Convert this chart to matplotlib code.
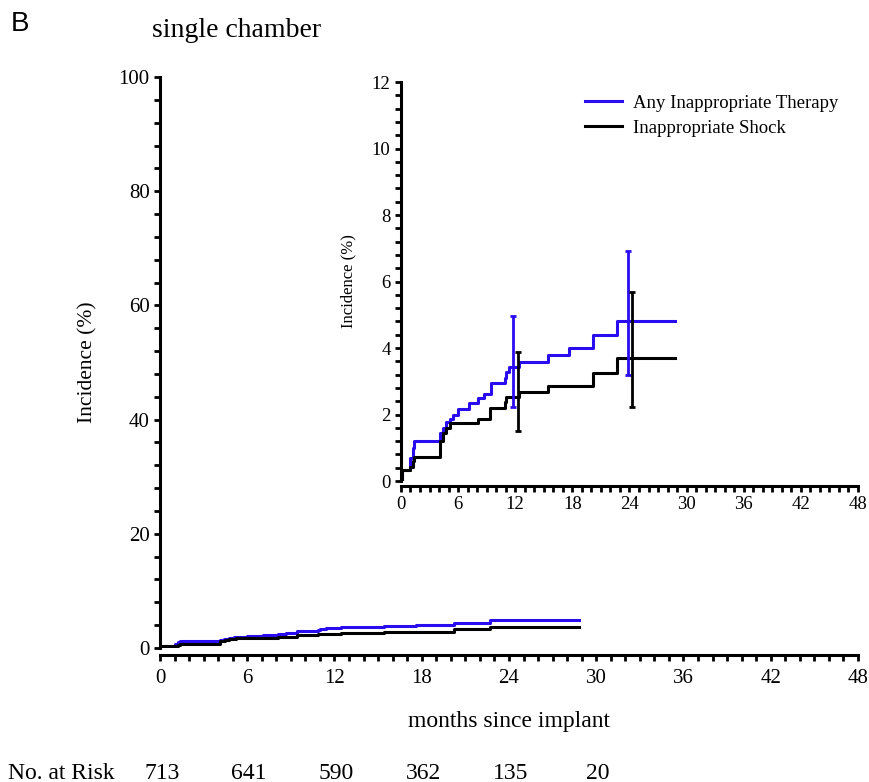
import numpy as np
import matplotlib.pyplot as plt
from matplotlib.ticker import MultipleLocator

plt.rcParams['font.family'] = 'Liberation Serif'

# step curves (months, incidence %)
any_t = [0, 0.15, 1.0, 1.25, 1.4, 4.1, 4.4, 4.75, 5.1, 5.5, 6.0, 7.1, 8.1, 8.7, 9.45,
         10.9, 11.0, 11.4, 12.45, 15.4, 17.6, 20.2, 22.7, 28.8]
any_v = [0, 0.33, 0.70, 1.0, 1.2, 1.45, 1.6, 1.76, 1.88, 2.0, 2.17, 2.35, 2.5, 2.63, 2.96,
         3.09, 3.29, 3.44, 3.59, 3.79, 3.99, 4.39, 4.82, 4.82]

shock_t = [0, 0.15, 1.0, 1.25, 1.4, 4.1, 4.45, 4.75, 5.2, 8.1, 9.4, 10.9, 11.0, 12.45,
           15.4, 20.2, 22.7, 28.8]
shock_v = [0, 0.33, 0.43, 0.6, 0.73, 1.2, 1.43, 1.58, 1.73, 1.88, 2.2, 2.38, 2.53, 2.68,
           2.86, 3.24, 3.71, 3.71]

# confidence intervals at 12 and 24 months (slightly offset)
any_ci_t = [11.8, 23.8]
any_ci_lo = [2.24, 3.19]
any_ci_hi = [4.96, 6.93]
shock_ci_t = [12.25, 24.3]
shock_ci_lo = [1.50, 2.24]
shock_ci_hi = [3.89, 5.68]

risk_months = [0, 6, 12, 18, 24, 30]
risk_n = [713, 641, 590, 362, 135, 20]

blue = '#2a0cf0'
black = '#000000'


def style_axis(ax, xmaj, ymaj, ymin, fs, off, pad):
    for s in ['top', 'right']:
        ax.spines[s].set_visible(False)
    for s in ['left', 'bottom']:
        ax.spines[s].set_linewidth(2.2)
    ax.spines['bottom'].set_position(('outward', off))
    ax.xaxis.set_major_locator(MultipleLocator(xmaj))
    ax.xaxis.set_minor_locator(MultipleLocator(1))
    ax.yaxis.set_major_locator(MultipleLocator(ymaj))
    ax.yaxis.set_minor_locator(MultipleLocator(ymin))
    ax.tick_params(which='both', direction='out', length=4.5, width=2, labelsize=fs)
    ax.tick_params(axis='x', pad=pad)
    ax.tick_params(axis='y', pad=3)
    ax.patch.set_alpha(0)


fig = plt.figure(figsize=(8.69, 7.82), dpi=100)

# main plot
ax = fig.add_axes([0.1841, 0.1714, 0.8032, 0.7301])
ax.step(any_t, any_v, where='post', color=blue, lw=2.2)
ax.step(shock_t, shock_v, where='post', color=black, lw=2.2)
ax.set_xlim(0, 48)
ax.set_ylim(0, 100)
style_axis(ax, 6, 20, 4, 15, 5, 6)
ax.set_ylabel('Incidence (%)', fontsize=15.5)
ax.yaxis.set_label_coords(-0.09, 0.5)
ax.set_xlabel('months since implant', fontsize=17, labelpad=16)

# inset
ins = fig.add_axes([0.4614, 0.3849, 0.5259, 0.5102])
ins.step(any_t, any_v, where='post', color=blue, lw=2.2, label='Any Inappropriate Therapy')
ins.step(shock_t, shock_v, where='post', color=black, lw=2.2, label='Inappropriate Shock')
ins.errorbar(any_ci_t, (np.array(any_ci_lo) + np.array(any_ci_hi)) / 2,
             yerr=(np.array(any_ci_hi) - np.array(any_ci_lo)) / 2,
             fmt='none', ecolor=blue, elinewidth=2, capsize=2.5, capthick=2)
ins.errorbar(shock_ci_t, (np.array(shock_ci_lo) + np.array(shock_ci_hi)) / 2,
             yerr=(np.array(shock_ci_hi) - np.array(shock_ci_lo)) / 2,
             fmt='none', ecolor=black, elinewidth=2, capsize=2.5, capthick=2)
ins.set_xlim(0, 48)
ins.set_ylim(0, 12)
style_axis(ins, 6, 2, 0.4, 13.5, 3.5, 3)
ins.set_ylabel('Incidence (%)', fontsize=12)
ins.yaxis.set_label_coords(-0.097, 0.5)
ins.legend(loc='upper right', bbox_to_anchor=(0.993, 1.01), frameon=False, fontsize=13.5,
           handlelength=2.0, handletextpad=0.55, labelspacing=0.4)

fig.text(0.012, 0.969, 'B', family='Liberation Sans', fontsize=20, va='center')
fig.text(0.272, 0.961, 'single chamber', fontsize=20, ha='center', va='center')

# number at risk row
fig.text(0.009, 0.0115, 'No. at Risk', fontsize=17, va='center')
for m, n in zip(risk_months, risk_n):
    xf = ax.transData.transform((m, 0))[0] / fig.bbox.width
    fig.text(xf + 0.002, 0.0115, str(n), fontsize=17, ha='center', va='center')

fig.savefig('out.png', dpi=100)
